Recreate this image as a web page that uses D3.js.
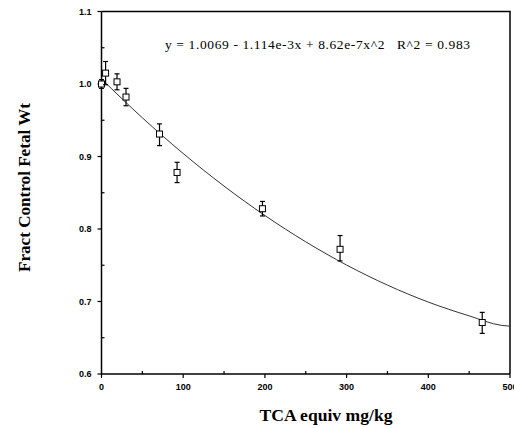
<!DOCTYPE html>
<html>
<head>
<meta charset="utf-8">
<script src="https://cdn.jsdelivr.net/npm/d3@7"></script>
<style>
  body { margin: 0; background: #fff; }
  .tick-lbl { font-family: Arial, "Liberation Sans", sans-serif; font-size: 9px; font-weight: bold; fill: #000; }
</style>
</head>
<body>
<div id="chart"></div>
<script>
// observed points (dose, fraction of control weight, error half-ranges)
const doses   = [0, 5, 19, 30, 71, 92.5, 197, 292, 466];
const means   = [1.000, 1.015, 1.003, 0.982, 0.931, 0.878, 0.828, 0.772, 0.671];
const errUp   = [0.006, 0.016, 0.011, 0.012, 0.014, 0.014, 0.010, 0.019, 0.014];
const errDown = [0.006, 0.016, 0.011, 0.012, 0.016, 0.014, 0.010, 0.016, 0.015];

// fitted curve
const fitX = [0, 50, 100, 150, 200, 250, 300, 350, 400, 450, 490, 500];
const fitY = [1.0069, 0.9534, 0.9041, 0.8592, 0.8186, 0.7823, 0.7503, 0.7226, 0.6992, 0.6802, 0.667, 0.666];

const xTicks = [0, 100, 200, 300, 400, 500];
const xMinor = [50, 150, 250, 350, 450];
const yTicks = [0.6, 0.7, 0.8, 0.9, 1.0, 1.1];
const yMinor = [0.65, 0.75, 0.85, 0.95, 1.05];

const equation = "y = 1.0069 - 1.114e-3x + 8.62e-7x^2   R^2 = 0.983";

const width = 514, height = 428;
const margin = { top: 11.5, right: 4, bottom: 54, left: 101.5 };

const svg = d3.select("#chart").append("svg")
  .attr("width", width)
  .attr("height", height);

const x = d3.scaleLinear().domain([0, 500]).range([margin.left, width - margin.right]);
const y = d3.scaleLinear().domain([0.6, 1.1]).range([height - margin.bottom, margin.top]);

// frame: top and right lines
svg.append("path")
  .attr("d", `M${x(0)},${y(1.1)}H${x(500)}V${y(0.6)}`)
  .attr("fill", "none")
  .attr("stroke", "#000")
  .attr("stroke-width", 1.5);

// left axis
svg.append("line")
  .attr("x1", x(0)).attr("x2", x(0))
  .attr("y1", y(1.1)).attr("y2", y(0.6))
  .attr("stroke", "#000").attr("stroke-width", 1.5);

svg.selectAll(".ytick").data(yTicks).enter().append("line")
  .attr("x1", x(0) - 4).attr("x2", x(0))
  .attr("y1", d => y(d)).attr("y2", d => y(d))
  .attr("stroke", "#000").attr("stroke-width", 1.2);

svg.selectAll(".yminor").data(yMinor).enter().append("line")
  .attr("x1", x(0)).attr("x2", x(0) + 3)
  .attr("y1", d => y(d)).attr("y2", d => y(d))
  .attr("stroke", "#000").attr("stroke-width", 1.2);

svg.selectAll(".ylbl").data(yTicks).enter().append("text")
  .attr("class", "tick-lbl")
  .attr("x", x(0) - 10)
  .attr("y", d => y(d))
  .attr("dy", "0.35em")
  .attr("text-anchor", "end")
  .text(d3.format(".1f"));

// bottom axis
svg.append("line")
  .attr("x1", x(0)).attr("x2", x(500))
  .attr("y1", y(0.6)).attr("y2", y(0.6))
  .attr("stroke", "#000").attr("stroke-width", 1.5);

svg.selectAll(".xtick").data(xTicks).enter().append("line")
  .attr("x1", d => x(d)).attr("x2", d => x(d))
  .attr("y1", y(0.6)).attr("y2", y(0.6) + 4)
  .attr("stroke", "#000").attr("stroke-width", 1.2);

svg.selectAll(".xminor").data(xMinor).enter().append("line")
  .attr("x1", d => x(d)).attr("x2", d => x(d))
  .attr("y1", y(0.6)).attr("y2", y(0.6) - 3)
  .attr("stroke", "#000").attr("stroke-width", 1.2);

svg.selectAll(".xlbl").data(xTicks).enter().append("text")
  .attr("class", "tick-lbl")
  .attr("x", d => x(d))
  .attr("y", y(0.6) + 16)
  .attr("text-anchor", "middle")
  .text(d => d);

// fitted curve
const fit = fitX.map((d, i) => ({ x: d, y: fitY[i] }));
svg.append("path")
  .datum(fit)
  .attr("d", d3.line().x(d => x(d.x)).y(d => y(d.y)).curve(d3.curveMonotoneX))
  .attr("fill", "none")
  .attr("stroke", "#333")
  .attr("stroke-width", 1);

// error bars and markers
const pts = doses.map((d, i) => ({ x: d, y: means[i], hi: means[i] + errUp[i], lo: means[i] - errDown[i] }));
const g = svg.selectAll(".pt").data(pts).enter().append("g");

g.append("line")
  .attr("x1", d => x(d.x)).attr("x2", d => x(d.x))
  .attr("y1", d => y(d.hi)).attr("y2", d => y(d.lo))
  .attr("stroke", "#000").attr("stroke-width", 1.2);
g.append("line")
  .attr("x1", d => x(d.x) - 2.5).attr("x2", d => x(d.x) + 2.5)
  .attr("y1", d => y(d.hi)).attr("y2", d => y(d.hi))
  .attr("stroke", "#000").attr("stroke-width", 1.2);
g.append("line")
  .attr("x1", d => x(d.x) - 2.5).attr("x2", d => x(d.x) + 2.5)
  .attr("y1", d => y(d.lo)).attr("y2", d => y(d.lo))
  .attr("stroke", "#000").attr("stroke-width", 1.2);
g.append("rect")
  .attr("x", d => x(d.x) - 3)
  .attr("y", d => y(d.y) - 3)
  .attr("width", 6).attr("height", 6)
  .attr("fill", "#fff")
  .attr("stroke", "#000")
  .attr("stroke-width", 1);

// equation text
svg.append("text")
  .attr("x", 165)
  .attr("y", 49)
  .attr("font-family", "'Liberation Serif', 'Times New Roman', serif")
  .attr("font-size", 13.5)
  .attr("fill", "#000")
  .attr("textLength", 305)
  .attr("lengthAdjust", "spacing")
  .style("white-space", "pre")
  .text(equation);

// axis titles
svg.append("text")
  .attr("x", 326)
  .attr("y", 421)
  .attr("text-anchor", "middle")
  .attr("font-family", "'Liberation Serif', 'Times New Roman', serif")
  .attr("font-weight", "bold")
  .attr("font-size", 16.5)
  .attr("textLength", 133)
  .attr("lengthAdjust", "spacingAndGlyphs")
  .text("TCA equiv mg/kg");

svg.append("text")
  .attr("transform", "rotate(-90)")
  .attr("x", -187.5)
  .attr("y", 30)
  .attr("text-anchor", "middle")
  .attr("font-family", "'Liberation Serif', 'Times New Roman', serif")
  .attr("font-weight", "bold")
  .attr("font-size", 16.5)
  .attr("textLength", 169)
  .attr("lengthAdjust", "spacingAndGlyphs")
  .text("Fract Control Fetal Wt");
</script>
</body>
</html>
